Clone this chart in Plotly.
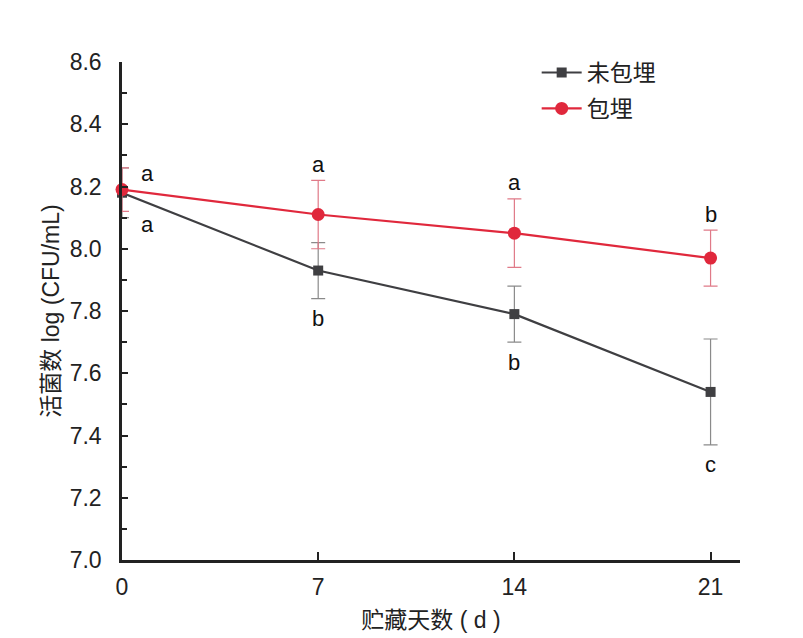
import plotly.graph_objects as go

days = [0, 7, 14, 21]
unembedded = [8.18, 7.93, 7.79, 7.54]
unembedded_err = [0.08, 0.09, 0.09, 0.17]
embedded = [8.19, 8.11, 8.05, 7.97]
embedded_err = [0.07, 0.11, 0.11, 0.09]
unembedded_letters = ["a", "b", "b", "c"]
embedded_letters = ["a", "a", "a", "b"]
series_names = ["未包埋", "包埋"]
x_ticks = [0, 7, 14, 21]
y_ticks = [7.0, 7.2, 7.4, 7.6, 7.8, 8.0, 8.2, 8.4, 8.6]

FONT = "Liberation Sans, Arial, Noto Sans CJK SC, sans-serif"
GRAY = "#3f3f42"
RED = "#e0283c"

fig = go.Figure()
fig.add_trace(go.Scatter(
    x=days, y=unembedded, name=series_names[0], mode="lines+markers", legendgroup="g1",
    line=dict(color=GRAY, width=2.2),
    marker=dict(symbol="square", size=10, color=GRAY),
    error_y=dict(type="data", array=unembedded_err, color="#8a8a8a", thickness=1.2, width=7),
    cliponaxis=False,
))
fig.add_trace(go.Scatter(
    x=days, y=embedded, name=series_names[1], mode="lines+markers", legendgroup="g2",
    line=dict(color=RED, width=2.2),
    marker=dict(symbol="circle", size=13, color=RED),
    error_y=dict(type="data", array=embedded_err, color="#e07a88", thickness=1.2, width=7),
    cliponaxis=False,
))

annotations = []
lf = dict(size=22, color="#111", family=FONT)
for i, d in enumerate(days):
    if d == 0:
        annotations.append(dict(x=d + 0.9, y=embedded[i], text=embedded_letters[i], showarrow=False,
                                yshift=16, font=lf))
        annotations.append(dict(x=d + 0.9, y=unembedded[i], text=unembedded_letters[i], showarrow=False,
                                yshift=-32, font=lf))
    else:
        annotations.append(dict(x=d, y=embedded[i] + embedded_err[i], text=embedded_letters[i],
                                showarrow=False, yshift=16, font=lf))
        annotations.append(dict(x=d, y=unembedded[i] - unembedded_err[i], text=unembedded_letters[i],
                                showarrow=False, yshift=-20, font=lf))

fig.update_layout(
    width=803, height=638,
    margin=dict(l=122, r=63, t=62, b=78),
    paper_bgcolor="white", plot_bgcolor="white",
    font=dict(family=FONT, size=23, color="#222"),
    showlegend=True,
    legend=dict(x=0.671, y=1.022, xanchor="left", yanchor="top", bgcolor="rgba(0,0,0,0)",
                font=dict(size=23, family=FONT, color="#222"), tracegroupgap=3, itemwidth=40),
    annotations=annotations,
    xaxis=dict(range=[0, 22.05], tickvals=x_ticks, ticktext=[str(v) for v in x_ticks],
               automargin=False,
               showgrid=False, zeroline=False, showline=True, linecolor="#222", linewidth=2.5,
               ticks="inside", ticklen=8, tickwidth=1.8, tickcolor="#222", ticklabelstandoff=5,
               title=dict(text="贮藏天数 ( d )", font=dict(size=23, family=FONT), standoff=13),
               tickfont=dict(size=23, family=FONT)),
    yaxis=dict(range=[7.0, 8.6], tickvals=y_ticks, ticktext=[f"{v:.1f}" for v in y_ticks],
               automargin=False,
               showgrid=False, zeroline=False, showline=True, linecolor="#222", linewidth=2.5,
               ticks="inside", ticklen=6, tickwidth=1.8, tickcolor="#222", ticklabelstandoff=13,
               minor=dict(dtick=0.1, ticks="inside", ticklen=5, tickwidth=1.8, tickcolor="#222", showgrid=False),
               title=dict(text="活菌数 log (CFU/mL)", font=dict(size=23, family=FONT), standoff=4),
               tickfont=dict(size=23, family=FONT)),
)

fig.write_html("out.html")
